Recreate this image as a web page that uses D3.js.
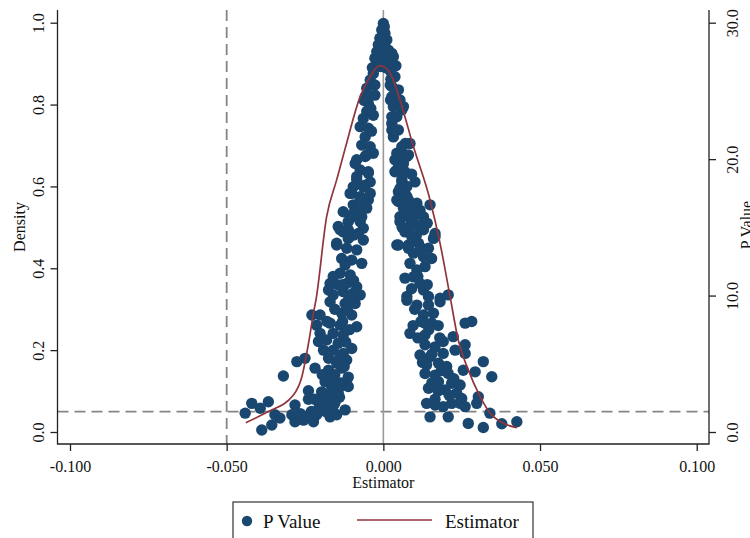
<!DOCTYPE html>
<html>
<head>
<meta charset="utf-8">
<script src="https://cdn.jsdelivr.net/npm/d3@7"></script>
<style>
  body { margin: 0; background: #fff; }
  svg { display: block; font-family: "Liberation Serif", "Times New Roman", serif; }
</style>
</head>
<body>
<svg id="chart" width="750" height="538"></svg>
<script>
// placebo draws: [estimator, p value]
const placeboDraws = [
  // top of the funnel
  [0, 0.998], [-0.0005, 0.982], [0.0005, 0.974], [-0.0011, 0.962], [0.0011, 0.958], [-0.0016, 0.946],
  [0.0005, 0.941], [0.0016, 0.933], [-0.0021, 0.929], [-0.0005, 0.925], [0.0027, 0.925], [-0.0027, 0.913],
  [0.0011, 0.913], [0.0032, 0.917], [-0.0005, 0.905], [0.0021, 0.901], [-0.0016, 0.897], [0.0003, 0.99],
  [-0.0002, 0.95], [0.0008, 0.89], [-0.001, 0.893], [-0.0035, 0.89], [0.004, 0.895],
  // left branch, upper
  [-0.0032, 0.876], [-0.0042, 0.860], [-0.0027, 0.848], [-0.0053, 0.840], [-0.0058, 0.819], [-0.0027, 0.823],
  [-0.0048, 0.803], [-0.0053, 0.783], [-0.0032, 0.774], [-0.0064, 0.766], [-0.0074, 0.746], [-0.0048, 0.742],
  [-0.0058, 0.721], [-0.0069, 0.701], [-0.0042, 0.697], [-0.0085, 0.665], [-0.0058, 0.673], [-0.0032, 0.681],
  [-0.0074, 0.640], [-0.0048, 0.632], [-0.0085, 0.616], [-0.0058, 0.603], [-0.0101, 0.583], [-0.0074, 0.575],
  [-0.0048, 0.567], [-0.0096, 0.555], [-0.0069, 0.542], [-0.0128, 0.538], [-0.0106, 0.522], [-0.0074, 0.514],
  [-0.0138, 0.494], [-0.0112, 0.494], [-0.008, 0.485], [-0.0149, 0.461], [-0.0061, 0.81], [-0.004, 0.79],
  [-0.0038, 0.735],
  // left branch, middle
  [-0.0053, 0.677], [-0.009, 0.656], [-0.0048, 0.636], [-0.0085, 0.624], [-0.0042, 0.611], [-0.0096, 0.599],
  [-0.0064, 0.599], [-0.0106, 0.583], [-0.0042, 0.583], [-0.0074, 0.567], [-0.0053, 0.547], [-0.0096, 0.534],
  [-0.0069, 0.526], [-0.0112, 0.514], [-0.0144, 0.502], [-0.0064, 0.498], [-0.0128, 0.489], [-0.0096, 0.481],
  [-0.0112, 0.473], [-0.0064, 0.469], [-0.0149, 0.457], [-0.0117, 0.449], [-0.0085, 0.445], [-0.0133, 0.424],
  [-0.0101, 0.420], [-0.0069, 0.412], [-0.0122, 0.408], [-0.0138, 0.388], [-0.0106, 0.384], [-0.017, 0.363],
  [-0.0144, 0.359], [-0.0117, 0.363], [-0.0085, 0.355], [-0.0175, 0.347], [-0.0128, 0.343], [-0.0096, 0.339],
  [-0.016, 0.335], [-0.0074, 0.335],
  // left branch, lower
  [-0.017, 0.318], [-0.0122, 0.314], [-0.009, 0.314], [-0.0228, 0.286], [-0.0202, 0.286], [-0.0133, 0.290],
  [-0.0101, 0.286], [-0.0213, 0.261], [-0.017, 0.266], [-0.0138, 0.261], [-0.0085, 0.257], [-0.0202, 0.241],
  [-0.016, 0.241], [-0.0128, 0.237], [-0.0181, 0.225], [-0.0207, 0.221], [-0.0144, 0.217], [-0.0101, 0.204],
  [-0.0191, 0.200], [-0.016, 0.200], [-0.0128, 0.192], [-0.0175, 0.180], [-0.025, 0.180], [-0.0276, 0.172],
  [-0.0117, 0.176], [-0.0149, 0.168], [-0.0218, 0.156], [-0.0175, 0.151], [-0.0133, 0.156], [-0.0319, 0.137],
  [-0.017, 0.131], [-0.0112, 0.134], [-0.0186, 0.123], [-0.0149, 0.119], [-0.0112, 0.111], [-0.0239, 0.101],
  [-0.0197, 0.098], [-0.016, 0.098], [-0.0144, 0.095], [-0.0239, 0.080], [-0.0202, 0.078], [-0.017, 0.078],
  [-0.0282, 0.066], [-0.042, 0.070], [-0.0367, 0.074], [-0.0393, 0.058], [-0.0191, 0.062], [-0.0165, 0.058],
  [-0.0441, 0.046], [-0.0346, 0.042], [-0.0292, 0.042], [-0.0244, 0.037], [-0.0213, 0.042], [-0.017, 0.037],
  [-0.0149, 0.042], [-0.033, 0.034], [-0.0282, 0.025], [-0.0356, 0.017], [-0.0388, 0.005], [-0.0223, 0.025],
  [-0.0255, 0.029], [-0.0122, 0.054], [-0.0138, 0.111],
  [-0.0115, 0.30], [-0.013, 0.27], [-0.0108, 0.25], [-0.012, 0.22], [-0.014, 0.18], [-0.0125, 0.16],
  [-0.0155, 0.14], [-0.0135, 0.12], [-0.0165, 0.11], [-0.014, 0.085], [-0.018, 0.09], [-0.0155, 0.07],
  [-0.0185, 0.05], [-0.016, 0.05], [-0.0205, 0.06], [-0.022, 0.08], [-0.023, 0.05], [-0.0265, 0.045],
  [-0.0195, 0.14], [-0.018, 0.27], [-0.0155, 0.30], [-0.011, 0.33], [-0.0095, 0.37], [-0.013, 0.36],
  [-0.016, 0.38],
  // right branch, upper
  [0.0021, 0.884], [0.0037, 0.868], [0.0022, 0.848], [0.0048, 0.836], [0.0027, 0.819], [0.0053, 0.811],
  [0.0064, 0.795], [0.0032, 0.795], [0.0043, 0.770], [0.0027, 0.754], [0.0048, 0.738], [0.0032, 0.721],
  [0.0085, 0.705], [0.0059, 0.697], [0.0043, 0.681], [0.0075, 0.673], [0.0048, 0.656], [0.0037, 0.636],
  [0.0101, 0.611], [0.0059, 0.611], [0.0048, 0.587], [0.0075, 0.575], [0.0048, 0.563], [0.0096, 0.555],
  [0.0149, 0.555], [0.0075, 0.542], [0.0101, 0.530], [0.0053, 0.514], [0.0085, 0.502], [0.0128, 0.494],
  [0.0165, 0.477], [0.0043, 0.457], [0.008, 0.457], [0.0024, 0.862], [0.0027, 0.844], [0.0023, 0.811],
  [0.0059, 0.787], [0.0027, 0.770], [0.0027, 0.738], [0.007, 0.705],
  // right branch, middle
  [0.0053, 0.681], [0.008, 0.677], [0.0037, 0.665], [0.0064, 0.656], [0.0043, 0.640], [0.0069, 0.636],
  [0.0059, 0.616], [0.0053, 0.595], [0.0069, 0.583], [0.0043, 0.567], [0.008, 0.567], [0.0107, 0.559],
  [0.0064, 0.547], [0.0117, 0.542], [0.0053, 0.526], [0.0085, 0.522], [0.0128, 0.526], [0.0107, 0.506],
  [0.0069, 0.489], [0.0165, 0.485], [0.0091, 0.477], [0.016, 0.473], [0.0048, 0.457], [0.0112, 0.461],
  [0.008, 0.449], [0.0144, 0.449], [0.0096, 0.437], [0.0128, 0.428], [0.0154, 0.424], [0.0085, 0.412],
  [0.0133, 0.404], [0.0107, 0.396], [0.0069, 0.376], [0.0096, 0.379], [0.0117, 0.363], [0.0128, 0.347],
  [0.0075, 0.331], [0.0144, 0.331], [0.0181, 0.327], [0.0207, 0.335],
  // right branch, lower
  [0.0075, 0.322], [0.0107, 0.310], [0.0144, 0.310], [0.0181, 0.318], [0.0128, 0.286], [0.016, 0.290],
  [0.0133, 0.266], [0.0154, 0.266], [0.0261, 0.266], [0.0282, 0.270], [0.0085, 0.241], [0.0133, 0.237],
  [0.0191, 0.221], [0.0223, 0.233], [0.0133, 0.213], [0.0165, 0.208], [0.0261, 0.213], [0.0117, 0.188],
  [0.0149, 0.184], [0.0191, 0.192], [0.0229, 0.200], [0.0261, 0.192], [0.0138, 0.164], [0.0176, 0.168],
  [0.0202, 0.160], [0.0255, 0.151], [0.0293, 0.147], [0.0319, 0.172], [0.0133, 0.143], [0.0165, 0.139],
  [0.0207, 0.143], [0.0346, 0.135], [0.0176, 0.123], [0.0218, 0.119], [0.0245, 0.115], [0.0144, 0.107],
  [0.0197, 0.103], [0.0234, 0.095], [0.025, 0.082], [0.0303, 0.086], [0.0138, 0.070], [0.0165, 0.066],
  [0.0218, 0.070], [0.0191, 0.062], [0.0261, 0.062], [0.0298, 0.070], [0.034, 0.046], [0.0149, 0.037],
  [0.0207, 0.037], [0.0271, 0.021], [0.0319, 0.011], [0.0378, 0.020], [0.0426, 0.025],
  [0.01, 0.30], [0.012, 0.27], [0.0095, 0.26], [0.011, 0.23], [0.0145, 0.25], [0.0175, 0.26],
  [0.018, 0.23], [0.0155, 0.19], [0.0125, 0.17], [0.0185, 0.15], [0.0155, 0.12], [0.0225, 0.13],
  [0.0175, 0.10], [0.021, 0.09], [0.0165, 0.08], [0.0245, 0.07], [0.011, 0.38], [0.014, 0.36],
  [0.009, 0.35], [0.012, 0.45], [0.0105, 0.48], [0.014, 0.51], [0.006, 0.50], [0.0075, 0.60],
  [0.009, 0.63]
];

// kernel density of the estimator (right axis)
const densityX = [-0.0439, -0.0372, -0.0287, -0.0260, -0.0237, -0.0223, -0.0215, -0.0181, -0.0149, -0.0122,
  -0.0074, -0.0042, -0.0013, 0.0005, 0.0027, 0.0053, 0.0096, 0.0149, 0.0181, 0.0213,
  0.0239, 0.0271, 0.0309, 0.0341, 0.0383, 0.0426];
const densityY = [0.68, 1.44, 2.71, 4.05, 6.74, 8.72, 9.68, 15.78, 18.48, 20.77,
  24.58, 26.05, 26.83, 26.74, 26.05, 24.34, 20.92, 17.01, 13.83, 9.92,
  6.74, 4.55, 2.59, 1.37, 0.64, 0.32];

const xTicks = [-0.1, -0.05, 0, 0.05, 0.1];
const leftTicks = [0, 0.2, 0.4, 0.6, 0.8, 1.0];
const rightTicks = [0, 10, 20, 30];
const refEstimator = -0.05;
const refPValue = 0.05;
const legendLabels = ["P Value", "Estimator"];

class placeboViz {
  constructor(_config) {
    this.config = {
      parentElement: _config.parentElement,
      containerWidth: _config.containerWidth,
      containerHeight: _config.containerHeight,
    }
    this.points = _config.points;
    this.density = _config.density;
    this.initVis();
  }

  initVis() {
    let vis = this;
    vis.svg = d3.select(vis.config.parentElement);
    // plot region (axis lines sit on its edges)
    vis.box = { left: 57.5, right: 709, top: 10, bottom: 444 };

    vis.xScale = d3.scaleLinear().domain([-0.1, 0.1]).range([70, 696.7]);
    vis.yScale = d3.scaleLinear().domain([0, 1]).range([432, 22.7]);
    vis.yRight = d3.scaleLinear().domain([0, 30]).range([432, 22.7]);

    vis.refs = vis.svg.append('g').attr('class', 'refs');
    vis.marks = vis.svg.append('g').attr('class', 'marks');
    vis.axes = vis.svg.append('g').attr('class', 'axes');
    vis.legend = vis.svg.append('g').attr('class', 'legend');
  }

  render() {
    let vis = this;
    const b = vis.box;
    const grey = '#858585';

    // reference lines
    vis.refs.append('line')
      .attr('x1', vis.xScale(refEstimator)).attr('x2', vis.xScale(refEstimator))
      .attr('y1', b.top).attr('y2', b.bottom)
      .attr('stroke', grey).attr('stroke-width', 1.8).attr('stroke-dasharray', '11,6');
    vis.refs.append('line')
      .attr('x1', b.left).attr('x2', b.right)
      .attr('y1', vis.yScale(refPValue)).attr('y2', vis.yScale(refPValue))
      .attr('stroke', grey).attr('stroke-width', 1.8).attr('stroke-dasharray', '11,6');
    vis.refs.append('line')
      .attr('x1', vis.xScale(0)).attr('x2', vis.xScale(0))
      .attr('y1', b.top).attr('y2', b.bottom)
      .attr('stroke', '#9a9a9a').attr('stroke-width', 1.6);

    vis.marks.selectAll('circle')
      .data(vis.points)
      .join('circle')
      .attr('cx', d => vis.xScale(d[0]))
      .attr('cy', d => vis.yScale(d[1]))
      .attr('r', 5.7)
      .attr('fill', '#1a476f');

    const line = d3.line()
      .x(d => vis.xScale(d.x))
      .y(d => vis.yRight(d.y))
      .curve(d3.curveMonotoneX);
    vis.marks.append('path')
      .datum(vis.density)
      .attr('d', line)
      .attr('fill', 'none')
      .attr('stroke', '#90353b')
      .attr('stroke-width', 1.7);

    // axes
    const xAxis = vis.axes.append('g')
      .attr('transform', `translate(0,${b.bottom})`)
      .call(d3.axisBottom(vis.xScale).tickValues(xTicks).tickFormat(d => d.toFixed(3)).tickSize(7));
    const yAxis = vis.axes.append('g')
      .attr('transform', `translate(${b.left},0)`)
      .call(d3.axisLeft(vis.yScale).tickValues(leftTicks).tickFormat(d => d.toFixed(1)).tickSize(7));
    const yAxisR = vis.axes.append('g')
      .attr('transform', `translate(${b.right},0)`)
      .call(d3.axisRight(vis.yRight).tickValues(rightTicks).tickFormat(d => d.toFixed(1)).tickSize(7));

    [xAxis, yAxis, yAxisR].forEach(a => {
      a.select('.domain').remove();
      a.selectAll('line').attr('stroke', '#222').attr('stroke-width', 1.3);
      a.selectAll('text').attr('fill', '#111').style('font-size', '16px').style('font-family', 'Liberation Serif, serif');
    });
    xAxis.selectAll('text').attr('y', 28).attr('dy', 0);
    yAxis.selectAll('text')
      .attr('transform', 'rotate(-90)')
      .attr('x', 0).attr('y', -14).attr('dy', 0)
      .style('text-anchor', 'middle');
    yAxisR.selectAll('text')
      .attr('transform', 'rotate(-90)')
      .attr('x', 0).attr('y', 29).attr('dy', 0)
      .style('text-anchor', 'middle');

    // axis lines
    vis.axes.append('path')
      .attr('d', `M${b.left},${b.top}V${b.bottom}H${b.right}V${b.top}`)
      .attr('fill', 'none').attr('stroke', '#222').attr('stroke-width', 1.3);

    // titles
    vis.axes.append('text')
      .attr('x', vis.xScale(0)).attr('y', 488)
      .attr('text-anchor', 'middle').style('font-size', '16px').attr('fill', '#111')
      .text('Estimator');
    vis.axes.append('text')
      .attr('transform', 'translate(24.5,227) rotate(-90)')
      .attr('text-anchor', 'middle').style('font-size', '16px').attr('fill', '#111')
      .text('Density');
    vis.axes.append('text')
      .attr('transform', 'translate(751.5,225) rotate(-90)')
      .attr('text-anchor', 'middle').style('font-size', '16px').attr('fill', '#111')
      .text('P Value');

    // legend
    vis.legend.append('rect')
      .attr('x', 233).attr('y', 502).attr('width', 300).attr('height', 50)
      .attr('fill', '#fff').attr('stroke', '#333').attr('stroke-width', 1.2);
    vis.legend.append('circle')
      .attr('cx', 247).attr('cy', 521).attr('r', 5.2).attr('fill', '#1a476f');
    vis.legend.append('text')
      .attr('x', 263).attr('y', 528).style('font-size', '19px').attr('fill', '#111')
      .text(legendLabels[0]);
    vis.legend.append('line')
      .attr('x1', 357).attr('x2', 432).attr('y1', 520).attr('y2', 520)
      .attr('stroke', '#90353b').attr('stroke-width', 1.7);
    vis.legend.append('text')
      .attr('x', 445).attr('y', 528).style('font-size', '19px').attr('fill', '#111')
      .text(legendLabels[1]);
  }
}

const chart = new placeboViz({
  parentElement: '#chart',
  containerWidth: 750,
  containerHeight: 538,
  points: placeboDraws,
  density: densityX.map((x, i) => ({ x: x, y: densityY[i] })),
});
chart.render();
</script>
</body>
</html>
